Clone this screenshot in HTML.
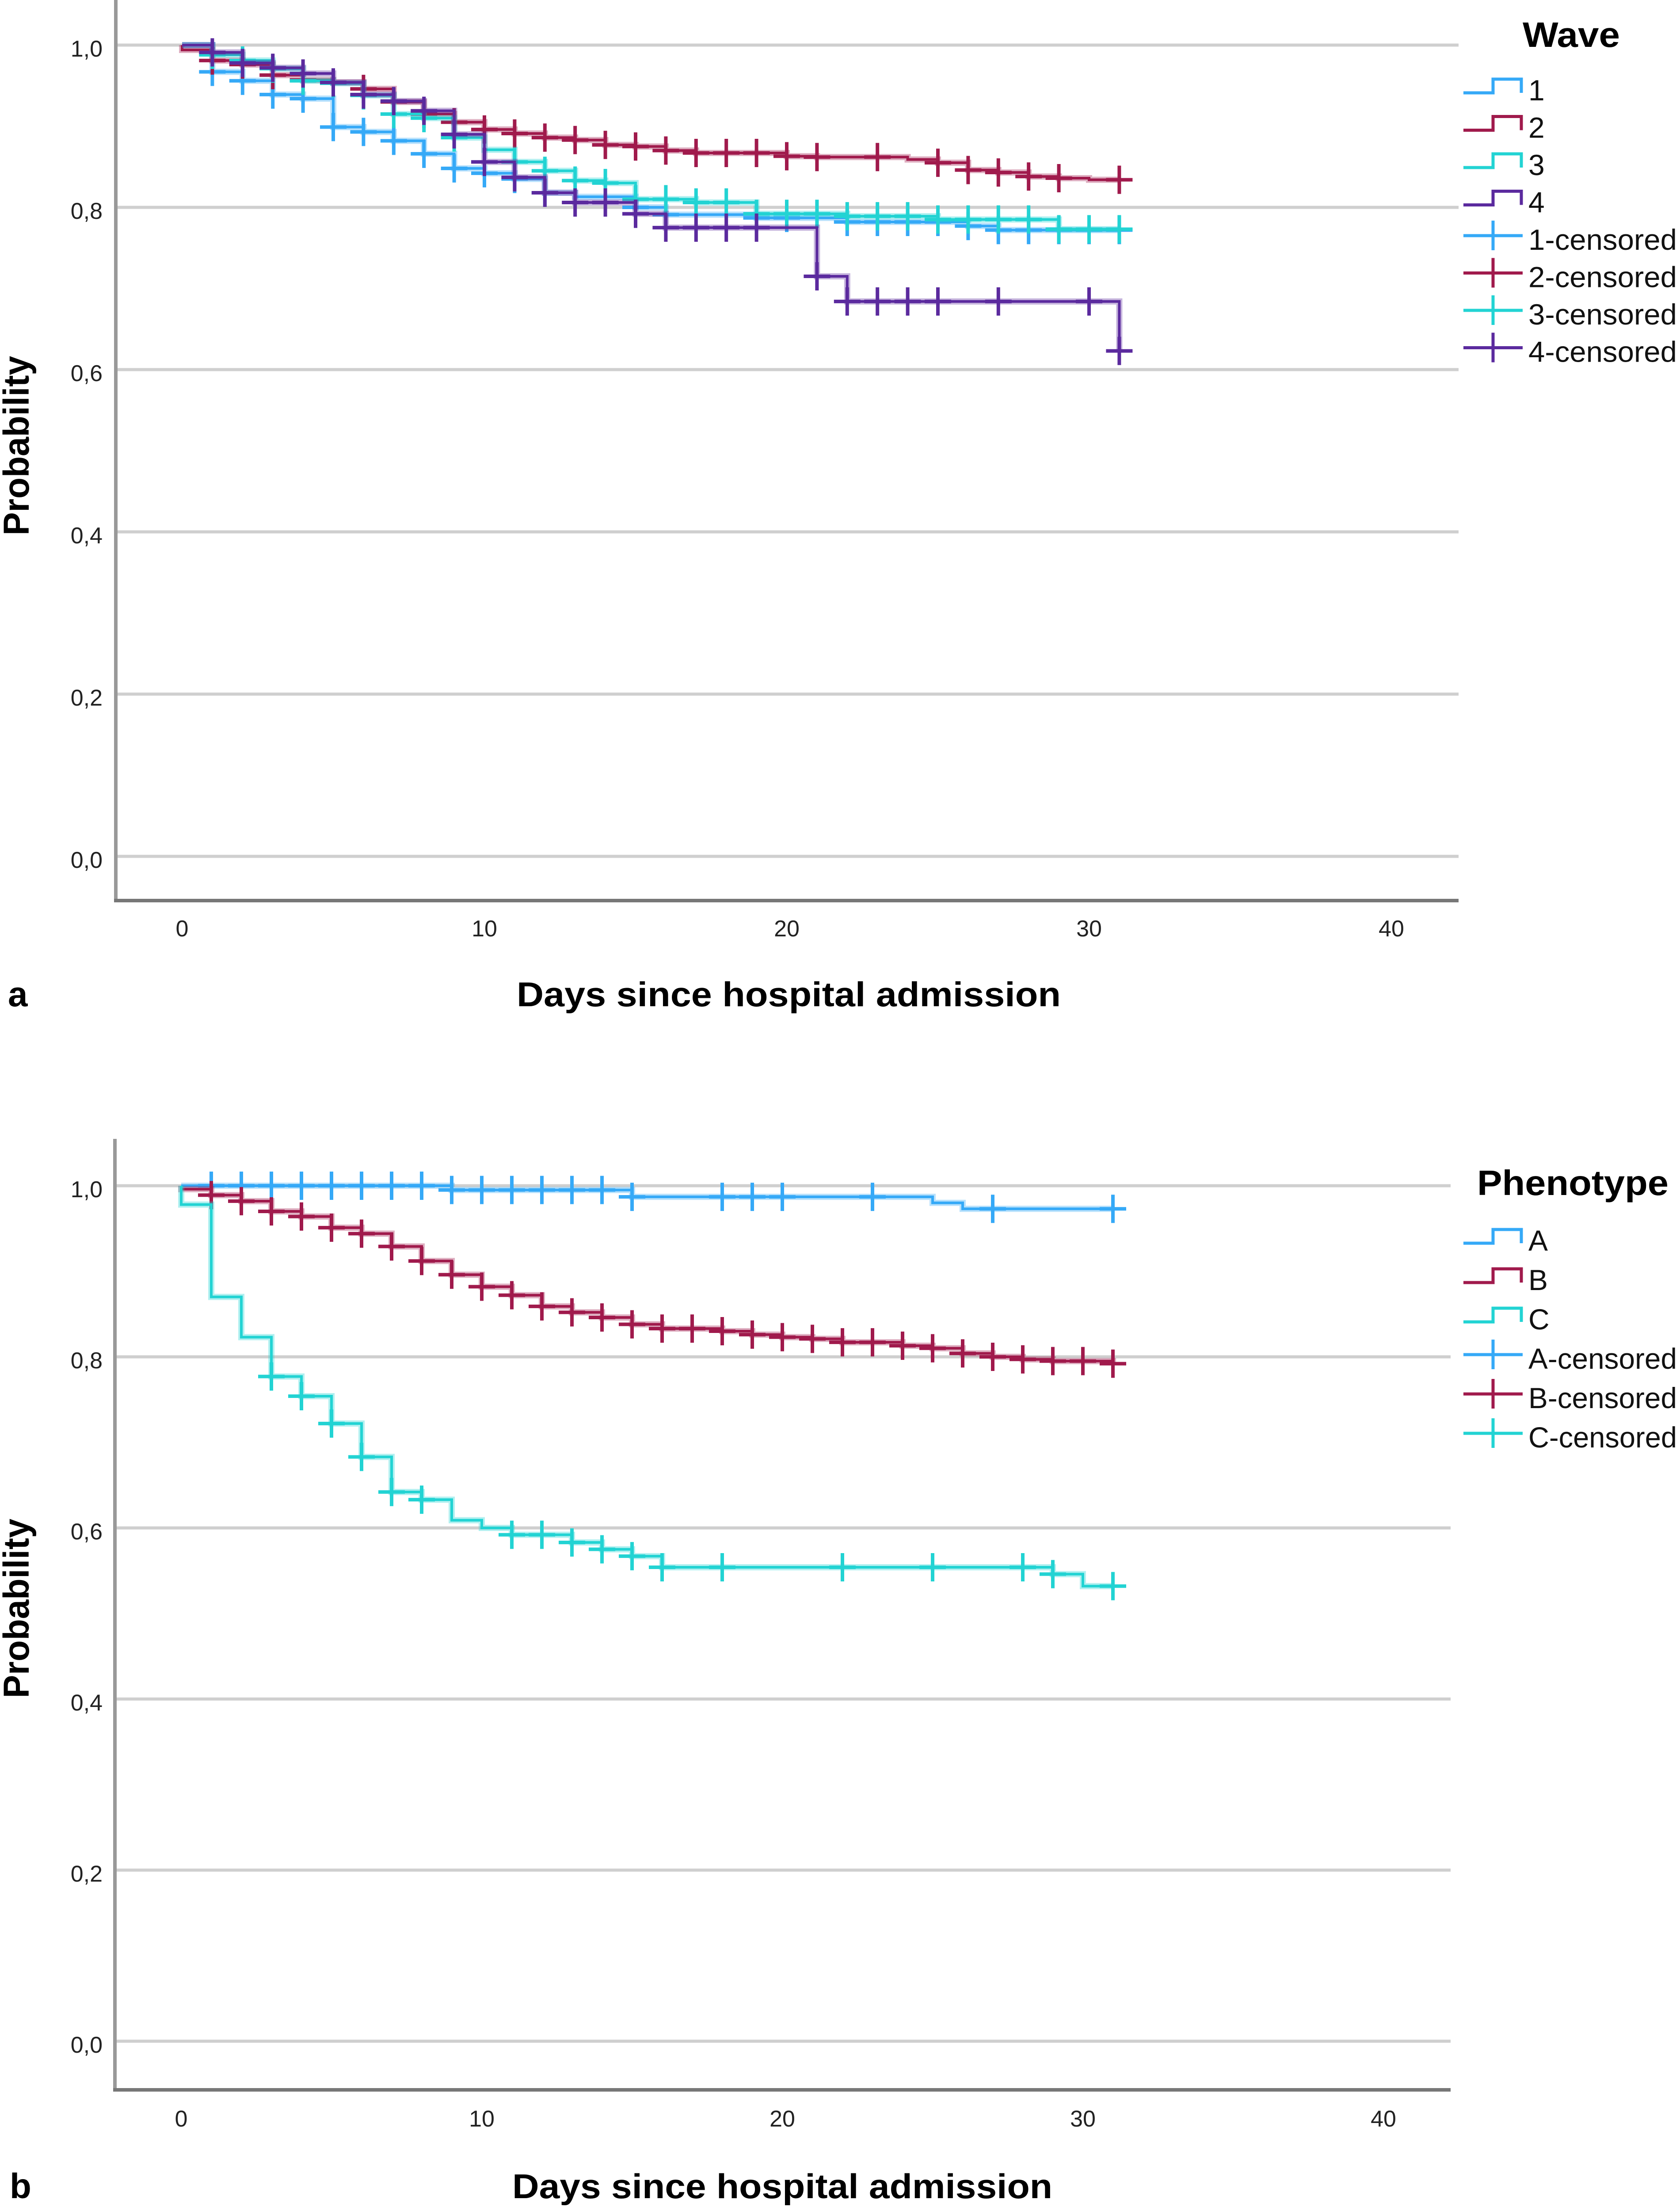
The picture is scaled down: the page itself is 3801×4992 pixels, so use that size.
<!DOCTYPE html>
<html><head><meta charset="utf-8">
<style>
html,body{margin:0;padding:0;background:#fff;}
svg{display:block;font-family:"Liberation Sans",Arial,sans-serif;}
</style></head>
<body>
<svg id="fig" width="3801" height="4992" viewBox="0 0 3801 4992" xmlns="http://www.w3.org/2000/svg">
<rect width="3801" height="4992" fill="#fff"/>
<g id="panelA"></g>
<g id="panelB"></g>
</svg>
<script>
// ---------- data: panel a (Wave) ----------
const xTicks = [0, 10, 20, 30, 40];
const yTicks = [0, 0.2, 0.4, 0.6, 0.8, 1.0];
const yTickLabels = ["0,0", "0,2", "0,4", "0,6", "0,8", "1,0"];
const endDay = 31;

const wave1Days = [0, 1, 2, 3, 4, 5, 6, 7, 8, 9, 10, 11, 12, 13, 15, 16, 19, 22, 26, 27];
const wave1Surv = [1.0, 0.967, 0.956, 0.939, 0.934, 0.899, 0.893, 0.882, 0.866, 0.848, 0.842, 0.835, 0.818, 0.813, 0.800, 0.791, 0.787, 0.782, 0.777, 0.772];
const wave1Cens = [1, 2, 3, 4, 5, 6, 7, 8, 9, 10, 11, 12, 15, 16, 19, 20, 22, 23, 24, 25, 26, 27, 28, 29, 30, 31];

const wave2Days = [0, 1, 2, 3, 4, 5, 6, 7, 8, 9, 10, 11, 12, 13, 14, 15, 16, 17, 20, 21, 24, 25, 26, 27, 28, 29, 30];
const wave2Surv = [0.994, 0.981, 0.976, 0.963, 0.957, 0.954, 0.946, 0.930, 0.915, 0.905, 0.896, 0.891, 0.886, 0.883, 0.877, 0.875, 0.870, 0.867, 0.863, 0.862, 0.859, 0.855, 0.846, 0.843, 0.838, 0.836, 0.834];
const wave2Cens = [1, 2, 3, 4, 6, 7, 8, 9, 10, 11, 12, 13, 14, 15, 16, 17, 18, 19, 20, 21, 23, 25, 26, 27, 28, 29, 31];

const wave3Days = [0, 1, 2, 3, 4, 5, 6, 7, 8, 9, 10, 11, 12, 13, 14, 15, 17, 19, 22, 25, 29];
const wave3Surv = [1.0, 0.988, 0.981, 0.971, 0.956, 0.953, 0.938, 0.915, 0.910, 0.886, 0.871, 0.856, 0.845, 0.833, 0.830, 0.810, 0.806, 0.792, 0.789, 0.785, 0.773];
const wave3Cens = [1, 2, 3, 4, 5, 6, 7, 8, 9, 11, 12, 13, 14, 15, 16, 17, 18, 19, 20, 21, 22, 23, 24, 25, 26, 27, 28, 29, 30, 31];

const wave4Days = [0, 1, 2, 3, 4, 5, 6, 7, 8, 9, 10, 11, 12, 13, 15, 16, 21, 22, 31];
const wave4Surv = [1.0, 0.991, 0.978, 0.972, 0.965, 0.954, 0.939, 0.931, 0.919, 0.890, 0.856, 0.837, 0.818, 0.806, 0.792, 0.775, 0.715, 0.684, 0.623];
const wave4Cens = [1, 2, 3, 4, 5, 6, 7, 8, 9, 10, 11, 12, 13, 14, 15, 16, 17, 18, 19, 21, 22, 23, 24, 25, 27, 30, 31];

// ---------- data: panel b (Phenotype) ----------
const phenoADays = [0, 9, 15, 25, 26];
const phenoASurv = [1.0, 0.995, 0.987, 0.980, 0.973];
const phenoACens = [1, 2, 3, 4, 5, 6, 7, 8, 9, 10, 11, 12, 13, 14, 15, 18, 19, 20, 23, 27, 31];

const phenoBDays = [0, 1, 2, 3, 4, 5, 6, 7, 8, 9, 10, 11, 12, 13, 14, 15, 16, 18, 19, 20, 21, 22, 24, 25, 26, 27, 28, 29, 31];
const phenoBSurv = [0.996, 0.989, 0.982, 0.970, 0.964, 0.951, 0.944, 0.929, 0.912, 0.896, 0.882, 0.872, 0.859, 0.852, 0.846, 0.838, 0.833, 0.830, 0.826, 0.823, 0.821, 0.817, 0.813, 0.810, 0.804, 0.800, 0.797, 0.795, 0.792];
const phenoBCens = [1, 2, 3, 4, 5, 6, 7, 8, 9, 10, 11, 12, 13, 14, 15, 16, 17, 18, 19, 20, 21, 22, 23, 24, 25, 26, 27, 28, 29, 30, 31];

const phenoCDays = [0, 1, 2, 3, 4, 5, 6, 7, 8, 9, 10, 11, 13, 14, 15, 16, 29, 30];
const phenoCSurv = [0.978, 0.870, 0.823, 0.777, 0.754, 0.722, 0.683, 0.642, 0.633, 0.609, 0.600, 0.592, 0.583, 0.575, 0.567, 0.554, 0.546, 0.532];
const phenoCCens = [3, 4, 5, 6, 7, 8, 11, 12, 13, 14, 15, 16, 18, 22, 25, 28, 29, 31];

const NS = "http://www.w3.org/2000/svg";
function mk(tag, attrs, parent) {
  const e = document.createElementNS(NS, tag);
  for (const k in attrs) e.setAttribute(k, attrs[k]);
  parent.appendChild(e);
  return e;
}

function survAt(days, surv, d) {
  let v = surv[0];
  for (let i = 0; i < days.length; i++) if (days[i] <= d) v = surv[i];
  return v;
}

function drawPanel(g, cfg) {
  const X = d => cfg.x0 + d * cfg.dx;
  const Y = p => cfg.y0 - p * cfg.py;
  yTicks.forEach((t, i) => {
    const l = mk("line", {x1: cfg.axisX, x2: cfg.right, y1: Y(t), y2: Y(t), stroke: "#cfcfcf", "stroke-width": 7}, g);
    
    
    const tx = mk("text", {x: 232, y: Y(t) + 26, "font-size": 52, "text-anchor": "end", fill: "#222"}, g);
    tx.textContent = yTickLabels[i];
    
    
  });
  const ax = mk("line", {x1: cfg.axisX, x2: cfg.axisX, y1: cfg.axisTop, y2: cfg.axisBottom, stroke: "#999", "stroke-width": 8}, g);
  
  
  const bx = mk("line", {x1: cfg.axisX - 4, x2: cfg.right, y1: cfg.axisBottom, y2: cfg.axisBottom, stroke: "#777", "stroke-width": 8}, g);
  
  
  xTicks.forEach(t => {
    const tx = mk("text", {x: X(t), y: cfg.tickY, "font-size": 52, "text-anchor": "middle", fill: "#222"}, g);
    tx.textContent = String(t);
    
    
  });
  const xt = mk("text", {x: cfg.titleX1, y: cfg.titleY, "font-size": 78, "font-weight": "bold", textLength: cfg.titleLen, lengthAdjust: "spacingAndGlyphs", fill: "#000"}, g);
  xt.textContent = "Days since hospital admission";
  
  
  const yt = mk("text", {x: 0, y: 0, "font-size": 82, "font-weight": "bold", "text-anchor": "middle", textLength: 406, lengthAdjust: "spacingAndGlyphs", fill: "#000", transform: "translate(65," + cfg.probY + ") rotate(-90)"}, g);
  yt.textContent = "Probability";
  
  
  const pl = mk("text", {x: cfg.letterX, y: cfg.titleY, "font-size": 80, "font-weight": "bold", fill: "#000"}, g);
  pl.textContent = cfg.letter;
  
  
  cfg.series.forEach(s => {
    let d = "M" + X(s.days[0]) + "," + Y(1.0) + " L" + X(s.days[0]) + "," + Y(s.surv[0]);
    for (let i = 1; i < s.days.length; i++) {
      d += " L" + X(s.days[i]) + "," + Y(s.surv[i - 1]) + " L" + X(s.days[i]) + "," + Y(s.surv[i]);
    }
    d += " L" + X(endDay) + "," + Y(s.surv[s.surv.length - 1]);
    const sh = mk("path", {d: d, fill: "none", stroke: s.color, "stroke-opacity": 0.35, "stroke-width": 14}, g);
    
    
    const p = mk("path", {d: d, fill: "none", stroke: s.color, "stroke-width": 6}, g);
    
    
    s.cens.forEach(c => {
      const cx = X(c), cy = Y(survAt(s.days, s.surv, c));
      const m = mk("path", {d: "M" + (cx - 30) + "," + cy + " H" + (cx + 30) + " M" + cx + "," + (cy - 32) + " V" + (cy + 32), stroke: s.color, "stroke-width": 8, fill: "none"}, g);
      
      
    });
  });
  const lt = mk("text", {x: cfg.legTitleX, y: cfg.legTitleY, "font-size": 80, "font-weight": "bold", textLength: cfg.legTitleLen, lengthAdjust: "spacingAndGlyphs", fill: "#000"}, g);
  lt.textContent = cfg.legTitle;
  
  
  const n = cfg.series.length;
  cfg.series.forEach((s, i) => {
    const b = cfg.legY0 + i * cfg.legDy;
    const sym = mk("path", {d: "M3311," + (b - 17) + " H3378 V" + (b - 48) + " H3442 V" + (b - 17), fill: "none", stroke: s.color, "stroke-width": 7}, g);
    
    
    const t = mk("text", {x: 3458, y: b, "font-size": 66, fill: "#111"}, g);
    t.textContent = s.name;
    
    
    const b2 = cfg.legY0 + (i + n) * cfg.legDy;
    const cr = mk("path", {d: "M3311," + (b2 - 32) + " H3445 M3378," + (b2 - 66) + " V" + (b2 + 1), fill: "none", stroke: s.color, "stroke-width": 7}, g);
    
    
    const t2 = mk("text", {x: 3458, y: b2, "font-size": 66, fill: "#111", textLength: 336, lengthAdjust: "spacingAndGlyphs"}, g);
    t2.textContent = s.name + "-censored";
    
    
  });
}

const cBlue = "#35a9f7", cRed = "#a01a4c", cCyan = "#22d3d3", cPurple = "#5b2a9e";

drawPanel(document.getElementById("panelA"), {
  x0: 412, dx: 68.4, y0: 1937, py: 1835, axisX: 262, right: 3300, axisTop: 0, axisBottom: 2037,
  tickY: 2118, titleX1: 1169, titleLen: 1231, titleY: 2276, probY: 1008, letter: "a", letterX: 18,
  legTitle: "Wave", legTitleX: 3445, legTitleY: 106, legTitleLen: 220, legY0: 227, legDy: 84.5,
  series: [
    {name: "1", color: cBlue, days: wave1Days, surv: wave1Surv, cens: wave1Cens},
    {name: "2", color: cRed, days: wave2Days, surv: wave2Surv, cens: wave2Cens},
    {name: "3", color: cCyan, days: wave3Days, surv: wave3Surv, cens: wave3Cens},
    {name: "4", color: cPurple, days: wave4Days, surv: wave4Surv, cens: wave4Cens}
  ]
});

drawPanel(document.getElementById("panelB"), {
  x0: 410, dx: 68.0, y0: 4617, py: 1935, axisX: 260, right: 3282, axisTop: 2576, axisBottom: 4727,
  tickY: 4810, titleX1: 1159, titleLen: 1222, titleY: 4972, probY: 3638, letter: "b", letterX: 22,
  legTitle: "Phenotype", legTitleX: 3342, legTitleY: 2703, legTitleLen: 433, legY0: 2829, legDy: 89,
  series: [
    {name: "A", color: cBlue, days: phenoADays, surv: phenoASurv, cens: phenoACens},
    {name: "B", color: cRed, days: phenoBDays, surv: phenoBSurv, cens: phenoBCens},
    {name: "C", color: cCyan, days: phenoCDays, surv: phenoCSurv, cens: phenoCCens}
  ]
});
</script>
</body></html>
